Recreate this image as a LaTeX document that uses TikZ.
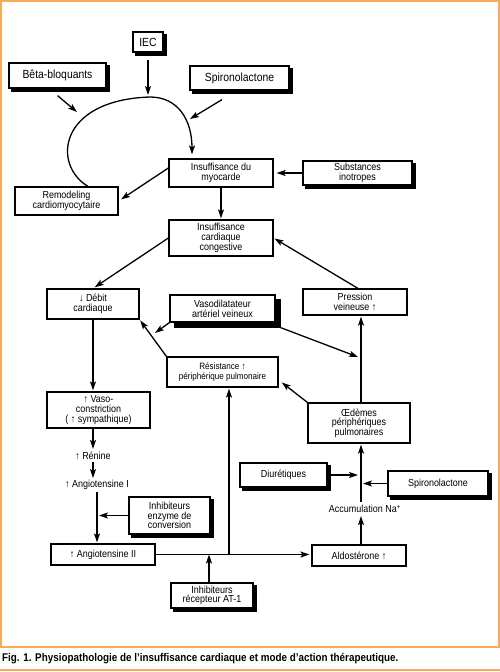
\documentclass[tikz,border=0pt]{standalone}
\usepackage{fontspec}
\setmainfont{Liberation Sans}[FakeStretch=0.88]
\usetikzlibrary{arrows.meta,backgrounds}
\definecolor{cadre}{RGB}{246,170,90}

\begin{document}
\begin{tikzpicture}[x=1pt,y=1pt,>={Stealth[length=9pt,width=6pt,inset=2pt]}]
                          \tikzstyle{every node}+=[inner sep=0pt, align=center, font=\fontsize{10.2}{9.7}\selectfont]
                          \tikzstyle{box}=[draw, black, line width=1.2pt, fill=white]
                          \tikzstyle{fleche}=[->, line width=1.3pt]
                          \tikzstyle{grand}=[font=\fontsize{11.8}{12}\selectfont]
                          \useasboundingbox (0,0) rectangle (500,-672);
                          \draw [cadre, line width=1.5pt] (1,-1) rectangle (499,-647);
                          \draw [cadre, line width=1.5pt] (0,-670) -- (500,-670);
                          \node [anchor=west, font=\bfseries\fontsize{11.2}{10}\selectfont] (legende) at (2,-659) {Fig. 1. Physiopathologie de l’insuffisance cardiaque et mode d’action thérapeutique.};
                          \node [box, grand, minimum width=30pt, minimum height=20pt] (iec) at (148,-42) {IEC};
                          \node [box, grand, minimum width=97pt, minimum height=25pt] (beta) at (57.5,-75.5) {Bêta-bloquants};
                          \node [box, grand, minimum width=99pt, minimum height=24pt] (spiroA) at (239.5,-78) {Spironolactone};
                          \node [box, minimum width=104pt, minimum height=28pt] (myo) at (221,-173) {Insuffisance du\\myocarde};
                          \node [box, minimum width=109pt, minimum height=24pt] (inotr) at (357.5,-173) {Substances\\inotropes};
                          \node [box, minimum width=103pt, minimum height=28pt] (remod) at (66.5,-201) {Remodeling\\cardiomyocytaire};
                          \node [box, minimum width=104pt, minimum height=36pt] (icc) at (221,-238) {Insuffisance\\cardiaque\\congestive};
                          \node [box, minimum width=92pt, minimum height=30pt] (debit) at (93,-304) {↓ Débit\\cardiaque};
                          \node [box, minimum width=105pt, minimum height=27pt] (vdil) at (222.5,-308.5) {Vasodilatateur\\artériel veineux};
                          \node [box, minimum width=104pt, minimum height=26pt] (pression) at (355,-302) {Pression\\veineuse ↑};
                          \node [box, minimum width=111pt, minimum height=30pt, font=\fontsize{9.2}{9.7}\selectfont] (resist) at (222.5,-372) {Résistance ↑\\périphérique pulmonaire};
                          \node [box, minimum width=103pt, minimum height=36pt] (vasoc) at (98.5,-410) {↑ Vaso-\\constriction\\( ↑ sympathique)};
                          \node [box, minimum width=102pt, minimum height=40pt] (oedeme) at (359,-423) {Œdèmes\\périphériques\\pulmonaires};
                          \node (renine) at (93,-456) {↑ Rénine};
                          \node (angioI) at (97,-485) {↑ Angiotensine I};
                          \node [box, minimum width=81pt, minimum height=37pt] (inhibE) at (169.5,-515.5) {Inhibiteurs\\enzyme de\\conversion};
                          \node [box, minimum width=104pt, minimum height=21pt] (angioII) at (103,-554.5) {↑ Angiotensine II};
                          \node [box, minimum width=87pt, minimum height=24pt] (diur) at (283.5,-475) {Diurétiques};
                          \node [box, minimum width=100pt, minimum height=25pt] (spiroB) at (438,-483.5) {Spironolactone};
                          \node (accum) at (365,-509) {Accumulation Na\textsuperscript{+}};
                          \node [box, minimum width=94pt, minimum height=21pt] (aldo) at (359,-555.5) {Aldostérone ↑};
                          \node [box, minimum width=82pt, minimum height=25pt] (inhibAT) at (212,-595.5) {Inhibiteurs\\récepteur AT-1};
                          \begin{scope}[on background layer]
                          \foreach \n in {iec,beta,spiroA,inotr,inhibE,diur,spiroB,inhibAT}
                              \fill [black] ([xshift=3pt,yshift=-3pt]\n.north west) rectangle ([xshift=3pt,yshift=-3pt]\n.south east);
                          \fill [black] ([xshift=5pt,yshift=-5pt]vdil.north west) rectangle ([xshift=5pt,yshift=-5pt]vdil.south east);
                          \end{scope}
                          \coordinate (axe) at (361,0);
                          \coordinate (ciec) at (148,-95);
                          \coordinate (cbeta) at (77,-112);
                          \coordinate (cspiro) at (190,-119);
                          \coordinate (arcdep) at ([xshift=21.5pt]remod.north);
                          \coordinate (arcfin) at ([xshift=-29pt,yshift=4pt]myo.north);
                          \coordinate (cvd1) at (155,-333);
                          \coordinate (cvd2) at (358,-357);
                          \coordinate (jonction) at (229,-554.5);
                          \draw [fleche] ([yshift=-7pt]iec.south) -- (ciec);
                          \draw [fleche] ([yshift=-7pt]beta.south) -- (cbeta);
                          \draw [fleche] ([xshift=-17.5pt,yshift=-9pt]spiroA.south) -- (cspiro);
                          \draw [fleche] (arcdep) .. controls (52,-165) and (58,-100) .. (150,-97) .. controls (178,-97) and (192,-120) .. (arcfin);
                          \draw [fleche, shorten >=3pt] (inotr.west) -- (myo.east);
                          \draw [fleche, shorten >=3pt] ([yshift=5pt]myo.west) -- (remod.east);
                          \draw [fleche, shorten >=1pt] (myo.south) -- (icc.north);
                          \draw [fleche, shorten >=2pt] (icc.west) -- (debit.north);
                          \draw [fleche, shorten >=1pt] ([xshift=3pt]pression.north) -- (icc.east);
                          \draw [fleche, shorten >=1pt] (debit.south) -- (debit.south |- vasoc.north);
                          \draw [fleche] (vdil.south west) -- (cvd1);
                          \draw [fleche] ([xshift=5pt,yshift=-5pt]vdil.south east) -- (cvd2);
                          \draw [fleche, shorten >=1pt] (resist.north west) -- (debit.south east);
                          \draw [fleche, shorten >=4pt] (oedeme.north west) -- ([yshift=-8pt]resist.east);
                          \draw [fleche, shorten >=1pt] (oedeme.north -| axe) -- (pression.south -| axe);
                          \draw [fleche, shorten >=3pt] (aldo.north -| axe) -- (accum.south -| axe);
                          \draw [fleche, shorten <=3pt, shorten >=1pt] (accum.north -| axe) -- (oedeme.south -| axe);
                          \draw [fleche, shorten <=3pt, shorten >=3pt] (diur.east) -- (diur.east -| axe);
                          \draw [fleche, shorten >=2pt] (spiroB.west) -- (spiroB.west -| axe);
                          \draw [fleche, shorten >=3pt] (vasoc.south -| debit.south) -- (renine.north);
                          \draw [fleche, shorten <=2pt, shorten >=2pt] (renine.south) -- (angioI.north -| renine.south);
                          \draw [fleche, shorten <=2pt, shorten >=1pt] (angioI.south) -- (angioI.south |- angioII.north);
                          \draw [fleche, shorten >=2pt] (inhibE.west) -- (inhibE.west -| angioI.south);
                          \draw [fleche, shorten >=2pt] (angioII.east) -- (angioII.east -| aldo.west);
                          \draw [fleche, shorten >=1pt] (jonction) -- (jonction |- resist.south);
                          \draw [fleche] ([xshift=-3pt]inhibAT.north) -- ([xshift=-3pt]inhibAT.north |- angioII.east);
                      \end{tikzpicture}
\end{document}
